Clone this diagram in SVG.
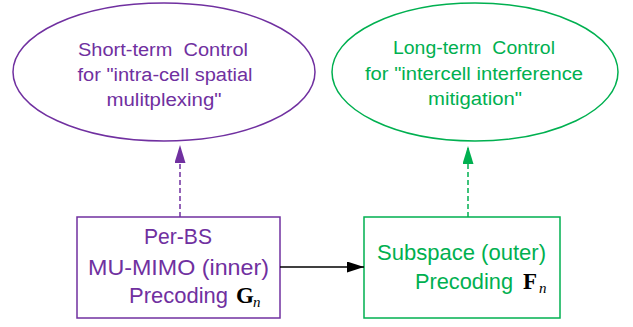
<svg xmlns="http://www.w3.org/2000/svg" width="633" height="327" viewBox="0 0 633 327">
<defs>
<marker id="ahP" viewBox="0 0 18 11" refX="18" refY="5.5" markerWidth="18" markerHeight="11" markerUnits="userSpaceOnUse" orient="auto"><path d="M0,0 L18,5.5 L0,11 Z" fill="#7030A0"/></marker>
<marker id="ahG" viewBox="0 0 18 11" refX="18" refY="5.5" markerWidth="18" markerHeight="11" markerUnits="userSpaceOnUse" orient="auto"><path d="M0,0 L18,5.5 L0,11 Z" fill="#00B050"/></marker>
<marker id="ahK" viewBox="0 0 17 11" refX="17" refY="5.5" markerWidth="17" markerHeight="11" markerUnits="userSpaceOnUse" orient="auto"><path d="M0,0 L17,5.5 L0,11 Z" fill="#000"/></marker>
</defs>
<style>
.t{font-family:"Liberation Sans",Arial,sans-serif;}
.e{font-size:18px;}
.b{font-size:22.5px;}
.p{fill:#7030A0;}
.g{fill:#00B050;}
.m{font-family:"Liberation Serif","Times New Roman",serif;}
</style>
<rect width="633" height="327" fill="#fff"/>
<g id="ellipse-short">
<ellipse cx="164" cy="72" rx="151" ry="69" fill="none" stroke="#7030A0" stroke-width="1.5"/>
<text class="t e p" x="163" y="56" text-anchor="middle" textLength="170" lengthAdjust="spacingAndGlyphs" xml:space="preserve">Short-term  Control</text>
<text class="t e p" x="165" y="81" text-anchor="middle" textLength="175" lengthAdjust="spacingAndGlyphs">for "intra-cell spatial</text>
<text class="t e p" x="164" y="106" text-anchor="middle" textLength="115" lengthAdjust="spacingAndGlyphs">mulitplexing"</text>
</g>
<g id="ellipse-long">
<ellipse cx="475" cy="72" rx="143" ry="69" fill="none" stroke="#00B050" stroke-width="1.5"/>
<text class="t e g" x="474" y="54" text-anchor="middle" textLength="162" lengthAdjust="spacingAndGlyphs" xml:space="preserve">Long-term  Control</text>
<text class="t e g" x="474" y="80" text-anchor="middle" textLength="218" lengthAdjust="spacingAndGlyphs">for "intercell interference</text>
<text class="t e g" x="475" y="105" text-anchor="middle" textLength="94" lengthAdjust="spacingAndGlyphs">mitigation"</text>
</g>
<g id="box-inner">
<rect x="77" y="217" width="203" height="101" fill="none" stroke="#7030A0" stroke-width="1.5"/>
<text class="t b p" x="178" y="244" text-anchor="middle" textLength="68" lengthAdjust="spacingAndGlyphs">Per-BS</text>
<text class="t b p" x="88" y="275" textLength="181" lengthAdjust="spacingAndGlyphs">MU-MIMO (inner)</text>
<text class="t b p" x="129" y="303" textLength="99" lengthAdjust="spacingAndGlyphs">Precoding</text>
<text class="m" x="236" y="303" font-size="23" font-weight="bold" fill="#000">G</text>
<text class="m" x="253" y="307" font-size="15" font-style="italic" fill="#000">n</text>
</g>
<g id="box-outer">
<rect x="364" y="217" width="196" height="101" fill="none" stroke="#00B050" stroke-width="1.5"/>
<text class="t b g" x="377" y="260" textLength="169" lengthAdjust="spacingAndGlyphs">Subspace (outer)</text>
<text class="t b g" x="415" y="289" textLength="98" lengthAdjust="spacingAndGlyphs">Precoding</text>
<text class="m" x="523" y="289" font-size="23" font-weight="bold" fill="#000">F</text>
<text class="m" x="539" y="293" font-size="15" font-style="italic" fill="#000">n</text>
</g>
<g id="connectors">
<line x1="180" y1="217" x2="180" y2="145" stroke="#7030A0" stroke-width="1.5" stroke-dasharray="5,3" marker-end="url(#ahP)"/>
<line x1="468" y1="217" x2="468" y2="146" stroke="#00B050" stroke-width="1.5" stroke-dasharray="5,3" marker-end="url(#ahG)"/>
<line x1="280" y1="267" x2="364" y2="267" stroke="#000" stroke-width="1.5" marker-end="url(#ahK)"/>
</g>
</svg>
